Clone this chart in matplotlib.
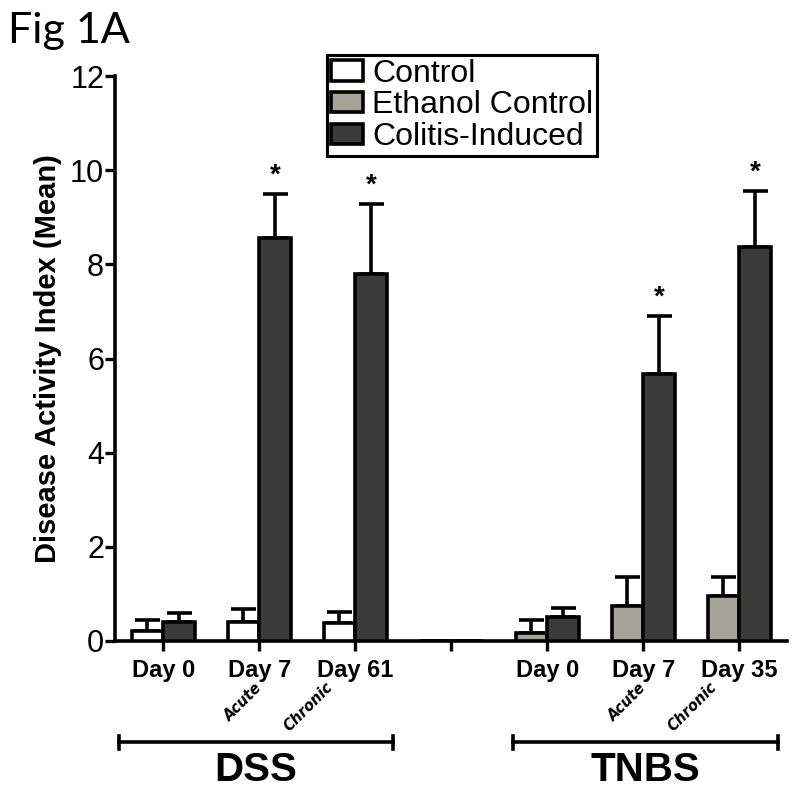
"""Fig 1A: disease activity index, DSS vs TNBS colitis models."""

import matplotlib
matplotlib.use("Agg")
import matplotlib.pyplot as plt
from matplotlib.patches import Patch
from matplotlib.transforms import blended_transform_factory
import numpy as np

# data
day_labels = ["Day 0", "Day 7", "Day 61", "", "Day 0", "Day 7", "Day 35"]
model = ["DSS", "DSS", "DSS", "", "TNBS", "TNBS", "TNBS"]
ctrl_mean = [0.21, 0.40, 0.38, 0.0, 0.17, 0.75, 0.96]   # control (DSS) / ethanol control (TNBS)
ctrl_err = [0.24, 0.28, 0.24, 0.0, 0.28, 0.61, 0.40]
colitis_mean = [0.40, 8.57, 7.80, 0.0, 0.51, 5.66, 8.36]
colitis_err = [0.20, 0.92, 1.48, 0.0, 0.19, 1.24, 1.19]
significant = [False, True, True, False, False, True, True]
phase = {1: "Acute", 2: "Chronic", 5: "Acute", 6: "Chronic"}

C_CTRL = "#ffffff"
C_ETOH = "#a3a398"
C_COL = "#3b3b3b"

plt.rcParams["font.family"] = ["Liberation Sans", "DejaVu Sans"]

fig = plt.figure(figsize=(8, 7.98), dpi=100)
ax = fig.add_axes([0.144, 0.197, 0.84, 0.7075])

x = np.arange(len(day_labels))
w = 0.33
first_colors = [C_ETOH if m == "TNBS" else C_CTRL for m in model]

ax.bar(x - w / 2, ctrl_mean, w, color=first_colors, edgecolor="black", lw=2.6, zorder=3)
ax.bar(x + w / 2, colitis_mean, w, color=C_COL, edgecolor="black", lw=2.6, zorder=3)
zeros = np.zeros(len(x))
ekw = dict(fmt="none", ecolor="black", elinewidth=2.6, capsize=9, capthick=2.6, zorder=2)
ax.errorbar(x - w / 2, ctrl_mean, yerr=[zeros, ctrl_err], **ekw)
ax.errorbar(x + w / 2, colitis_mean, yerr=[zeros, colitis_err], **ekw)

for i, s in enumerate(significant):
    if s:
        ax.text(x[i] + w / 2, colitis_mean[i] + colitis_err[i] + 0.12, "*",
                ha="center", va="bottom", fontsize=20, fontweight="bold")

ax.set_xlim(-0.5, 6.5)
ax.set_ylim(0, 12)
ax.set_yticks(range(0, 13, 2))
ax.set_xticks(x)
ax.set_xticklabels(day_labels, fontsize=17, fontweight="bold")
ax.tick_params(axis="y", labelsize=22, width=2.4, length=7, pad=1)
ax.tick_params(axis="x", width=2.4, length=7, pad=6)
for s in ("top", "right"):
    ax.spines[s].set_visible(False)
for s in ("left", "bottom"):
    ax.spines[s].set_linewidth(2.6)
ax.set_ylabel("Disease Activity Index (Mean)", fontsize=21, fontweight="bold", labelpad=6)

# Acute / Chronic labels, rotated
tr = blended_transform_factory(ax.transData, fig.transFigure)
for i, lab in phase.items():
    dx = -0.17 if lab == "Acute" else -0.49
    yy = 0.12 if lab == "Acute" else 0.114
    ax.text(x[i] + dx, yy, lab, transform=tr, rotation=45, ha="center", va="center",
            fontsize=10.5, fontweight="bold", style="italic", family="DejaVu Sans")

# group brackets
for name, (x0, x1) in {"DSS": (-0.46, 2.39), "TNBS": (3.64, 6.4)}.items():
    ax.plot([x0, x1], [0.070, 0.070], transform=tr, color="black", lw=2.6, clip_on=False)
    for xe in (x0, x1):
        ax.plot([xe, xe], [0.062, 0.078], transform=tr, color="black", lw=2.6, clip_on=False)
    ax.text((x0 + x1) / 2 + 0.0, 0.035, name, transform=tr, ha="center", va="center",
            fontsize=29, fontweight="bold")

handles = [Patch(facecolor=C_CTRL, edgecolor="black", lw=2.6),
           Patch(facecolor=C_ETOH, edgecolor="black", lw=2.6),
           Patch(facecolor=C_COL, edgecolor="black", lw=2.6)]
leg = fig.legend(handles, ["Control", "Ethanol Control", "Colitis-Induced"],
                 loc="upper left", bbox_to_anchor=(327 / 800, 1 - 55 / 798),
                 fontsize=23, fancybox=False, framealpha=1, edgecolor="black",
                 handlelength=1.0, handleheight=0.6, handletextpad=0.3,
                 labelspacing=0.05, borderpad=0.12, borderaxespad=0)
leg.get_frame().set_linewidth(2.2)

fig.text(0.01, 0.985, "Fig 1A", fontsize=31, family="Lato", ha="left", va="top")

fig.savefig("out.png", dpi=100)
